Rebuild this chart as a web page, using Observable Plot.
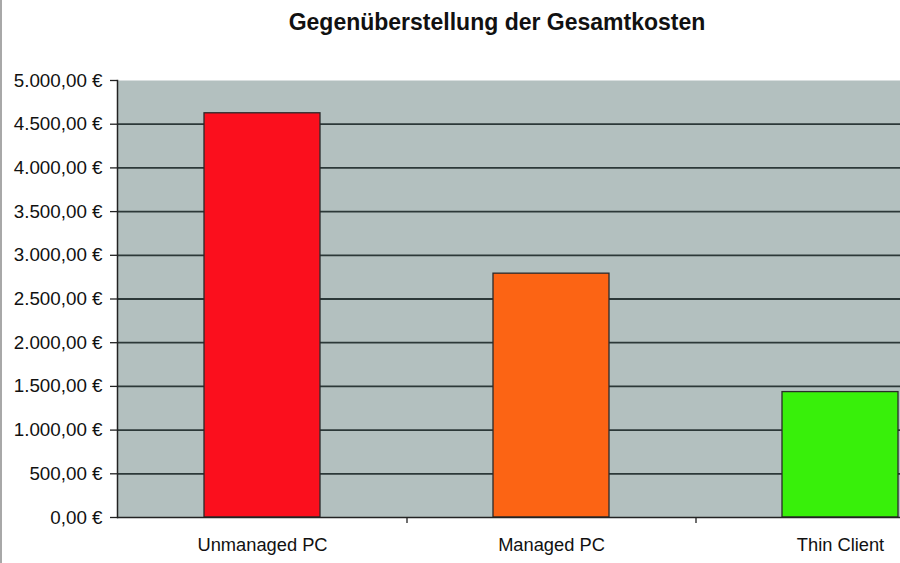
<!DOCTYPE html>
<html>
<head>
<meta charset="utf-8">
<script src="https://cdn.jsdelivr.net/npm/d3@7"></script>
<script src="https://cdn.jsdelivr.net/npm/@observablehq/plot@0.6"></script>
<style>
  html, body { margin: 0; padding: 0; background: #fff; overflow: hidden; }
  #wrap { position: relative; width: 900px; height: 563px; overflow: hidden; font-family: "Liberation Sans", Arial, sans-serif; }
  #title { position: absolute; left: 0; width: 994px; top: 11px; text-align: center; font-weight: bold; font-size: 23px; line-height: 22px; color: #111; }
  #edge { position: absolute; left: 0; top: 0; width: 2px; height: 563px; background: #a8a8a8; }
  #chart { position: absolute; left: 0; top: 0; }
</style>
</head>
<body>
<div id="wrap">
  <div id="chart"></div>
  <div id="title">Gegenüberstellung der Gesamtkosten</div>
  <div id="edge"></div>
</div>
<script>
const categories = ["Unmanaged PC", "Managed PC", "Thin Client"];
const values = [4625, 2790, 1435];
const colors = ["#fb0f1d", "#fc6414", "#38f00a"];
const yTicks = [0, 500, 1000, 1500, 2000, 2500, 3000, 3500, 4000, 4500, 5000];
const gridValues = [500, 1000, 1500, 2000, 2500, 3000, 3500, 4000, 4500];

const data = categories.map((c, i) => ({category: c, value: values[i]}));
const de = d3.formatLocale({decimal: ",", thousands: ".", grouping: [3], currency: ["", " €"]});
const fmt = de.format("$,.2f");

const chart = Plot.plot({
  width: 900,
  height: 563,
  marginLeft: 117,
  marginRight: 0,
  marginTop: 80,
  marginBottom: 46,
  style: {fontFamily: "'Liberation Sans', Arial, sans-serif", fontSize: "18px", color: "#111", background: "transparent", overflow: "hidden"},
  x: {domain: categories, range: [117, 984], paddingInner: 0.6, paddingOuter: 0.3, label: null},
  y: {domain: [0, 5000], label: null},
  color: {domain: categories, range: colors},
  marks: [
    Plot.frame({fill: "#b3c0bf", stroke: null}),
    Plot.ruleY(gridValues, {stroke: "#2c3838", strokeWidth: 1.8}),
    Plot.barY(data, {x: "category", y: "value", fill: "category", stroke: "#2a2a2a", strokeWidth: 1.3}),
    Plot.axisY({ticks: yTicks, tickFormat: fmt, tickSize: 7, tickPadding: 8, stroke: "#222", strokeWidth: 1.3, fontSize: 18.8, label: null}),
    Plot.axisX({tickSize: 0, tickPadding: 20, fontSize: 18.3, label: null}),
    Plot.ruleX(categories.slice(0, 2), {x: d => d, dx: 144.5, insetTop: 431, dy: 6, stroke: "#222", strokeWidth: 1.3}),
    Plot.frame({anchor: "left", stroke: "#222", strokeWidth: 1.5}),
    Plot.ruleY([0], {stroke: "#222", strokeWidth: 1.5})
  ]
});
document.getElementById("chart").appendChild(chart);
</script>
</body>
</html>
